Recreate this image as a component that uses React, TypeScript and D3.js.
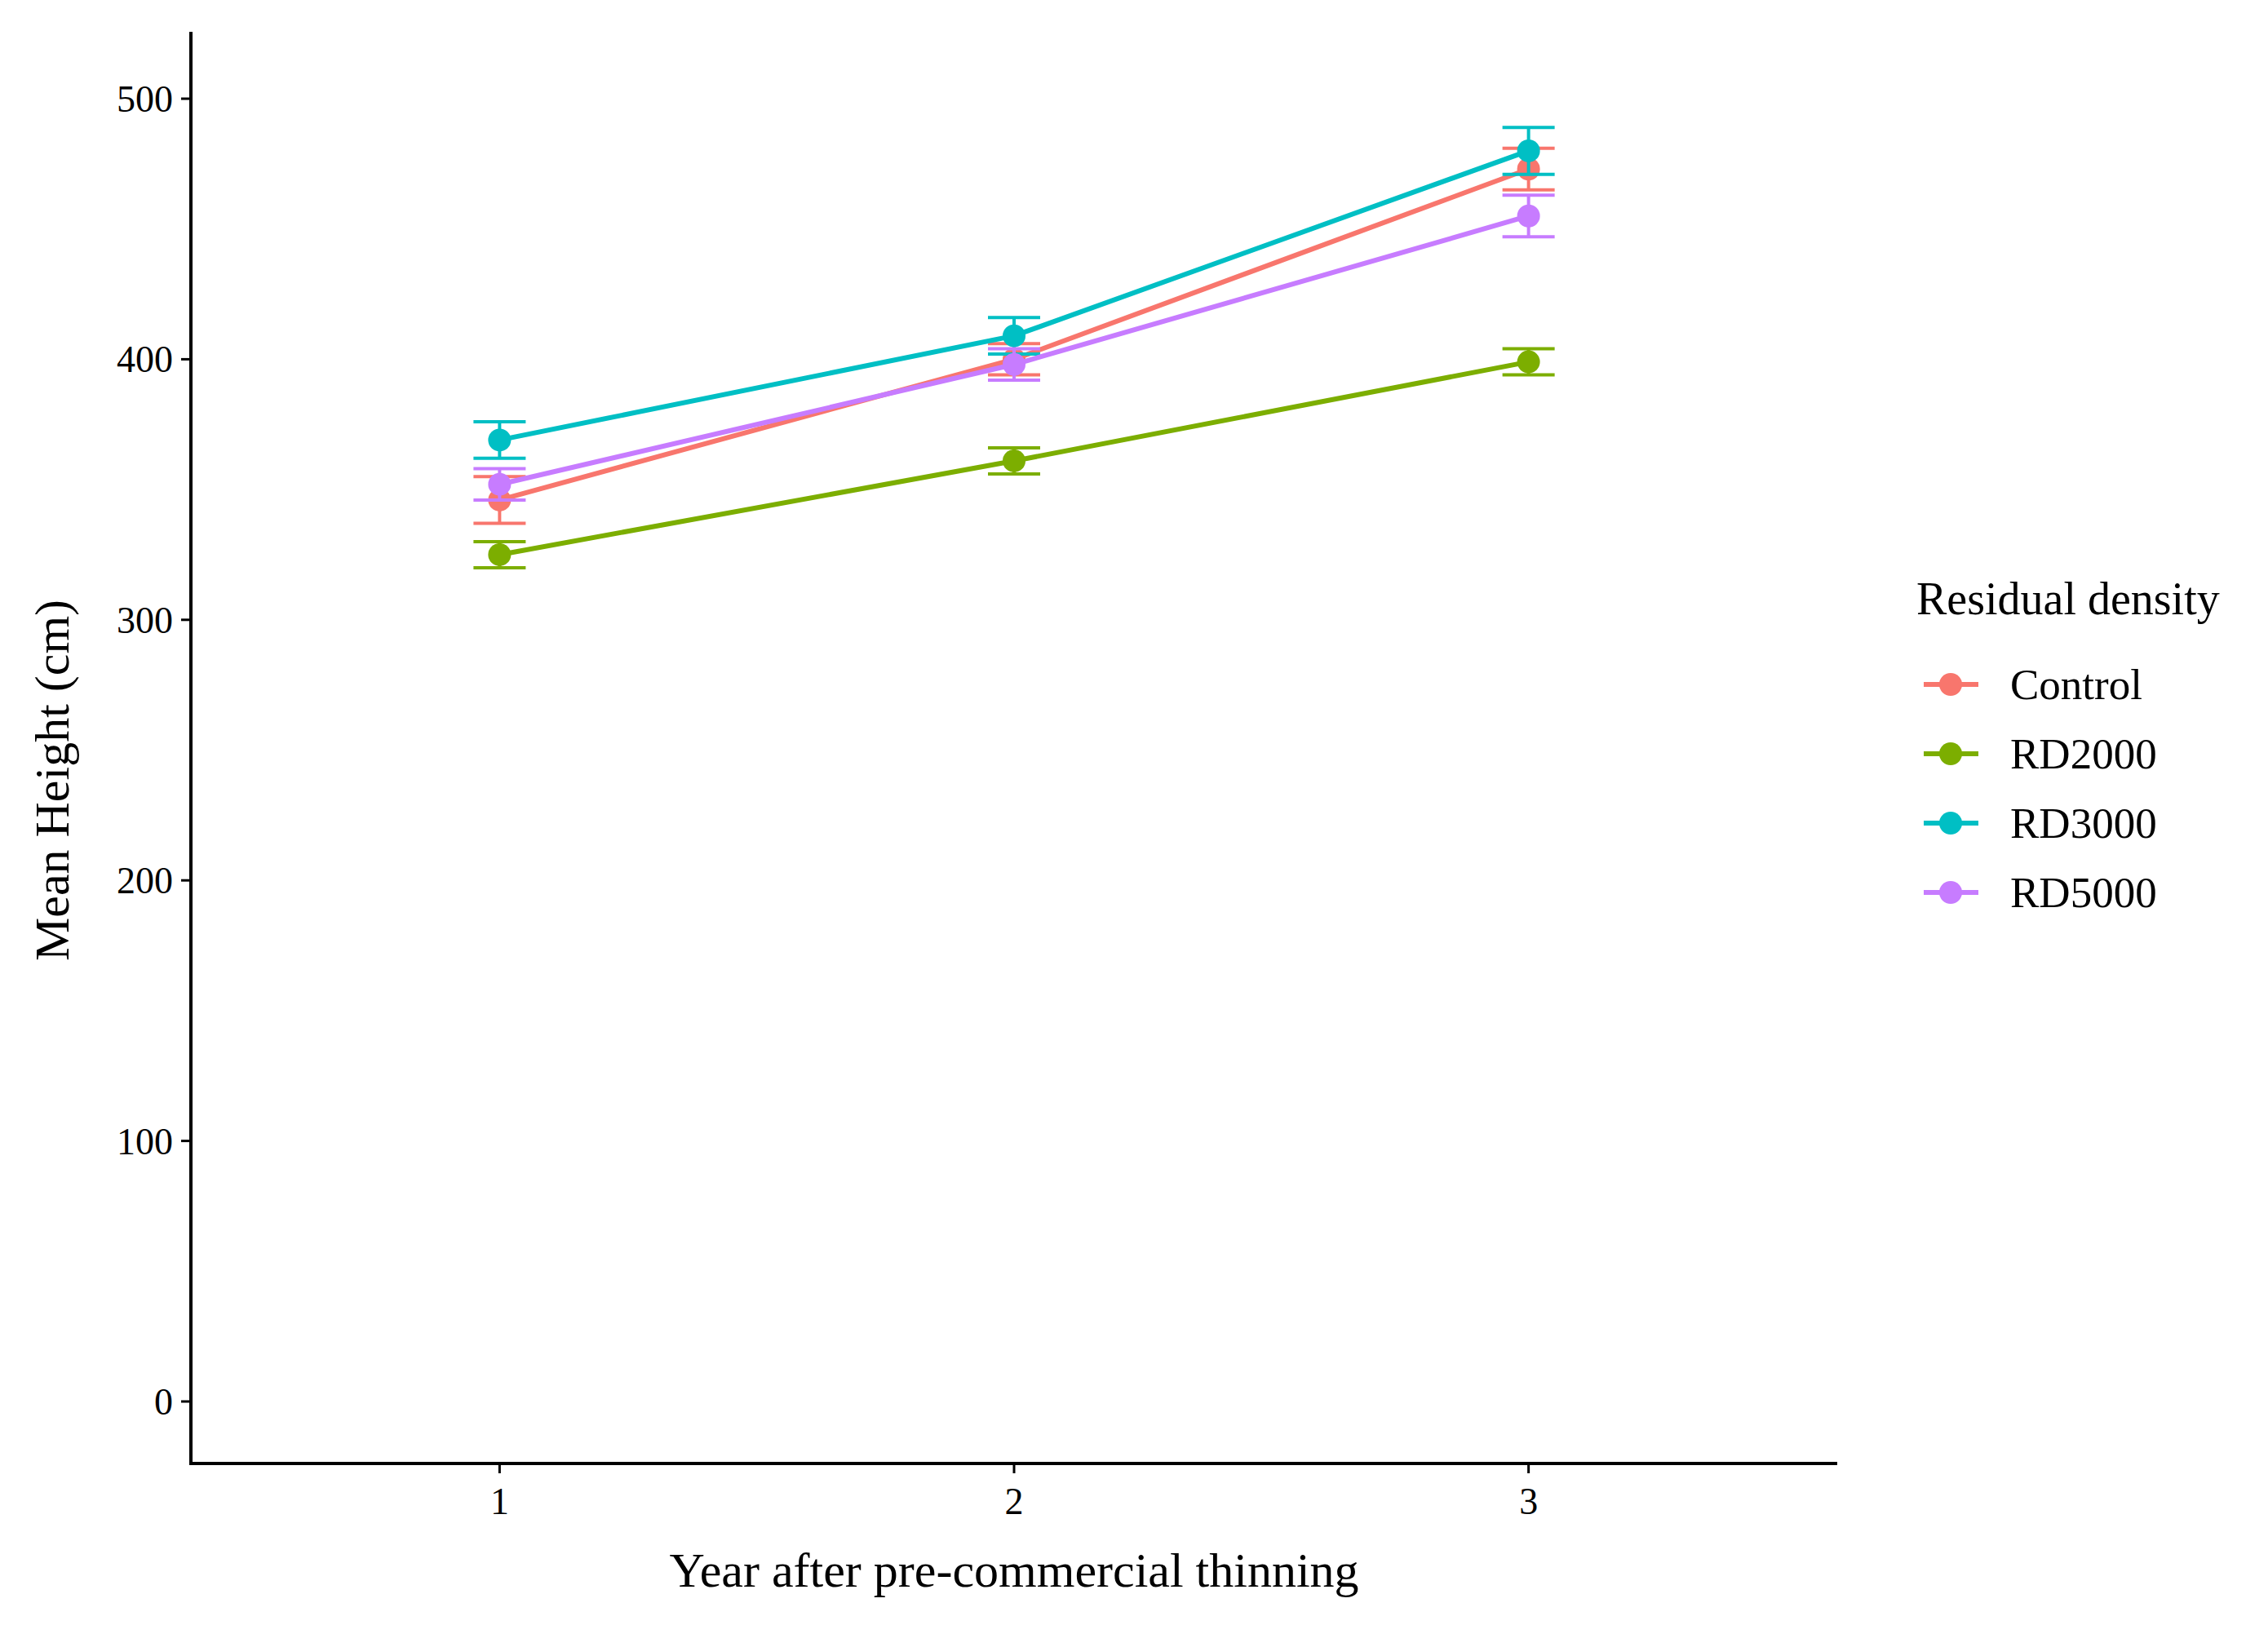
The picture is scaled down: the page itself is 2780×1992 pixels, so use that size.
import * as d3 from 'd3';

const years = [1, 2, 3];
const seriesNames = ['Control', 'RD2000', 'RD3000', 'RD5000'];
const colors = ['#F8766D', '#7CAE00', '#00BFC4', '#C77CFF'];
const controlMean = [346, 400, 473];
const controlErr = [9, 6, 8];
const rd2000Mean = [325, 361, 399];
const rd2000Err = [5, 5, 5];
const rd3000Mean = [369, 409, 480];
const rd3000Err = [7, 7, 9];
const rd5000Mean = [352, 398, 455];
const rd5000Err = [6, 6, 8];
const yTicks = [0, 100, 200, 300, 400, 500];

const means = [controlMean, rd2000Mean, rd3000Mean, rd5000Mean];
const errs = [controlErr, rd2000Err, rd3000Err, rd5000Err];

const W = 2780, H = 1992;
const left = 234, right = 2252, top = 39, bottom = 1794;

export default function App() {
  const x = d3.scaleLinear().domain([0.4, 3.6]).range([left, right]);
  const y = d3.scaleLinear().domain([0, 500]).range([1718, 121]);
  const line = d3.line<number>().x((_, i) => x(years[i])).y(d => y(d));
  const font = 'Liberation Serif, Times New Roman, serif';

  return (
    <svg width={W} height={H} style={{ position: 'absolute', left: 0, top: 0, background: '#fff' }} fontFamily={font}>
      {means.map((m, s) => (
        <g key={s}>
          <path d={line(m) || ''} fill="none" stroke={colors[s]} strokeWidth={6} />
          {m.map((v, i) => {
            const cx = x(years[i]);
            const e = errs[s][i];
            return (
              <g key={i} stroke={colors[s]} strokeWidth={4}>
                <line x1={cx} x2={cx} y1={y(v - e)} y2={y(v + e)} />
                <line x1={cx - 32} x2={cx + 32} y1={y(v - e)} y2={y(v - e)} />
                <line x1={cx - 32} x2={cx + 32} y1={y(v + e)} y2={y(v + e)} />
                <circle cx={cx} cy={y(v)} r={14} fill={colors[s]} stroke="none" />
              </g>
            );
          })}
        </g>
      ))}
      <line x1={left} x2={left} y1={top} y2={bottom} stroke="#000" strokeWidth={4} />
      <line x1={left - 2} x2={right} y1={bottom} y2={bottom} stroke="#000" strokeWidth={4} />
      {yTicks.map(t => (
        <g key={t}>
          <line x1={left - 12} x2={left} y1={y(t)} y2={y(t)} stroke="#000" strokeWidth={3} />
          <text x={left - 22} y={y(t) + 16} textAnchor="end" fontSize={46}>{t}</text>
        </g>
      ))}
      {years.map(t => (
        <g key={t}>
          <line x1={x(t)} x2={x(t)} y1={bottom} y2={bottom + 12} stroke="#000" strokeWidth={3} />
          <text x={x(t)} y={bottom + 62} textAnchor="middle" fontSize={46}>{t}</text>
        </g>
      ))}
      <text x={(left + right) / 2} y={1945} textAnchor="middle" fontSize={60}>Year after pre-commercial thinning</text>
      <text transform={`translate(84,${(top + bottom) / 2 + 40}) rotate(-90)`} textAnchor="middle" fontSize={60}>Mean Height (cm)</text>
      <text x={2349} y={753} fontSize={56}>Residual density</text>
      {seriesNames.map((n, i) => {
        const ly = 839 + i * 85;
        return (
          <g key={n}>
            <line x1={2358} x2={2425} y1={ly} y2={ly} stroke={colors[i]} strokeWidth={6} />
            <circle cx={2391} cy={ly} r={14} fill={colors[i]} />
            <text x={2464} y={ly + 18} fontSize={53}>{n}</text>
          </g>
        );
      })}
    </svg>
  );
}
